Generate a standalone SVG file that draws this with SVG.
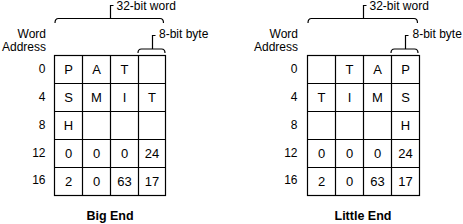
<svg xmlns="http://www.w3.org/2000/svg" width="463" height="224" viewBox="0 0 463 224">
<style>
text{font-family:"Liberation Sans",Arial,sans-serif;fill:#000}
.lbl{font-size:12px}
.addr{font-size:12px;text-anchor:end}
.cell{font-size:13px;text-anchor:middle}
.title{font-size:12.5px;font-weight:bold;text-anchor:middle}
.ln{stroke:#000;stroke-width:1.2;fill:none}
</style>
<rect width="463" height="224" fill="#fff"/>

<g id="big-end">
  <g id="big-braces">
    <path class="ln" d="M55,23 Q55,18.5 58.5,18.5 H160 Q163.5,18.5 163.5,23"/>
    <path class="ln" d="M110.5,18.5 V5.5 H113.5"/>
    <text class="lbl" x="116.5" y="9.5">32-bit word</text>
    <path class="ln" d="M138,53 Q138,49 141.5,49 H161.5 Q165,49 165,53"/>
    <path class="ln" d="M152.5,49 V35.5 H155.5"/>
    <text class="lbl" x="159" y="38.3">8-bit byte</text>
  </g>
  <g id="big-addr">
    <text class="addr" x="46" y="37.5">Word</text>
    <text class="addr" x="46" y="51">Address</text>
    <text class="addr" x="45.5" y="73">0</text>
    <text class="addr" x="45.5" y="100.5">4</text>
    <text class="addr" x="45.5" y="128.5">8</text>
    <text class="addr" x="45.5" y="156.7">12</text>
    <text class="addr" x="45.5" y="183.8">16</text>
  </g>
  <g id="big-grid">
    <rect class="ln" x="54.5" y="55.5" width="111" height="140"/>
    <path class="ln" d="M82.5,55.5 V195.5 M110.5,55.5 V195.5 M138.5,55.5 V195.5 M54.5,83.5 H165.5 M54.5,111.5 H165.5 M54.5,139.5 H165.5 M54.5,167.5 H165.5"/>
    <text class="cell" x="68.5" y="74">P</text>
    <text class="cell" x="96.5" y="74">A</text>
    <text class="cell" x="124.5" y="74">T</text>
    <text class="cell" x="68.5" y="101.5">S</text>
    <text class="cell" x="96.5" y="101.5">M</text>
    <text class="cell" x="124.5" y="101.5">I</text>
    <text class="cell" x="152" y="101.5">T</text>
    <text class="cell" x="68.5" y="129.5">H</text>
    <text class="cell" x="68.5" y="157.5">0</text>
    <text class="cell" x="96.5" y="157.5">0</text>
    <text class="cell" x="124.5" y="157.5">0</text>
    <text class="cell" x="152" y="157.5">24</text>
    <text class="cell" x="68.5" y="185.5">2</text>
    <text class="cell" x="96.5" y="185.5">0</text>
    <text class="cell" x="124.5" y="185.5">63</text>
    <text class="cell" x="152" y="185.5">17</text>
  </g>
  <text class="title" x="110" y="220">Big End</text>
</g>

<g id="little-end">
  <g id="little-braces">
    <path class="ln" d="M308,23 Q308,18.5 311.5,18.5 H414 Q417.5,18.5 417.5,23"/>
    <path class="ln" d="M363.5,18.5 V5.5 H366.5"/>
    <text class="lbl" x="369.5" y="9.5">32-bit word</text>
    <path class="ln" d="M391,53 Q391,49 394.5,49 H414.5 Q418,49 418,53"/>
    <path class="ln" d="M405.5,49 V35.5 H408.5"/>
    <text class="lbl" x="412.5" y="38.3">8-bit byte</text>
  </g>
  <g id="little-addr">
    <text class="addr" x="298" y="37.5">Word</text>
    <text class="addr" x="298" y="51">Address</text>
    <text class="addr" x="297.5" y="73">0</text>
    <text class="addr" x="297.5" y="100.5">4</text>
    <text class="addr" x="297.5" y="128.5">8</text>
    <text class="addr" x="297.5" y="156.7">12</text>
    <text class="addr" x="297.5" y="183.8">16</text>
  </g>
  <g id="little-grid">
    <rect class="ln" x="307.5" y="55.5" width="112" height="140"/>
    <path class="ln" d="M335.5,55.5 V195.5 M363.5,55.5 V195.5 M391.5,55.5 V195.5 M307.5,83.5 H419.5 M307.5,111.5 H419.5 M307.5,139.5 H419.5 M307.5,167.5 H419.5"/>
    <text class="cell" x="349.5" y="74">T</text>
    <text class="cell" x="377.5" y="74">A</text>
    <text class="cell" x="405.5" y="74">P</text>
    <text class="cell" x="321.5" y="101.5">T</text>
    <text class="cell" x="349.5" y="101.5">I</text>
    <text class="cell" x="377.5" y="101.5">M</text>
    <text class="cell" x="405.5" y="101.5">S</text>
    <text class="cell" x="405.5" y="129.5">H</text>
    <text class="cell" x="321.5" y="157.5">0</text>
    <text class="cell" x="349.5" y="157.5">0</text>
    <text class="cell" x="377.5" y="157.5">0</text>
    <text class="cell" x="405.5" y="157.5">24</text>
    <text class="cell" x="321.5" y="185.5">2</text>
    <text class="cell" x="349.5" y="185.5">0</text>
    <text class="cell" x="377.5" y="185.5">63</text>
    <text class="cell" x="405.5" y="185.5">17</text>
  </g>
  <text class="title" x="363" y="220">Little End</text>
</g>
</svg>
